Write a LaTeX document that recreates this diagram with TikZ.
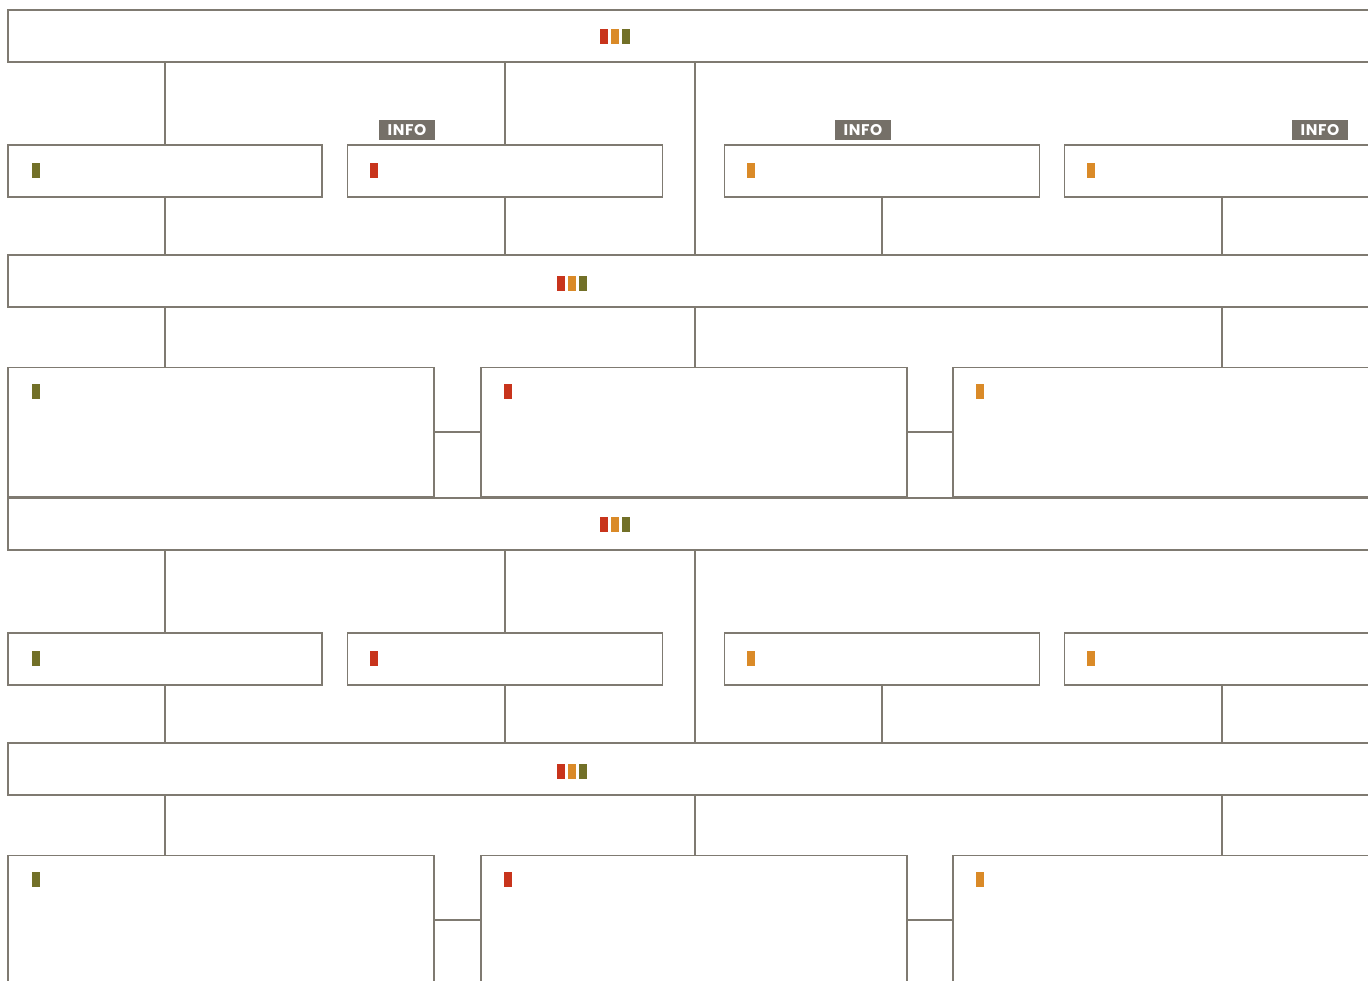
\documentclass[tikz,border=0pt]{standalone}
\usepackage{fontspec}
\newfontfamily\infofont{Poppins}[LetterSpace=4]
\definecolor{lgray}{HTML}{7F7A71}
\definecolor{infobg}{HTML}{757068}
\definecolor{cred}{HTML}{C8341C}
\definecolor{corange}{HTML}{DA8A28}
\definecolor{colive}{HTML}{727028}
\tikzset{
  linkline/.style={draw=lgray, line width=1.8pt},
  boxnode/.style={draw=lgray, line width=1.8pt, fill=white, inner sep=0pt, rectangle},
  barnode/.style={boxnode, minimum width=1392pt, minimum height=52pt},
  smallbox/.style={boxnode, minimum width=315pt, minimum height=52pt},
  bigbox/.style={boxnode, minimum width=426pt, minimum height=129pt},
  infotag/.style={fill=infobg, text=white, inner sep=0pt, minimum width=56pt, minimum height=20pt, font=\infofont\bfseries\fontsize{15.5pt}{16pt}\selectfont},
}
\begin{document}
\begin{tikzpicture}[x=1pt,y=-1pt]
\useasboundingbox (0,0) rectangle (1368,981);
\clip (0,0) rectangle (1368,981);
\fill[white] (0,0) rectangle (1368,981);
\foreach \s/\o in {A/0,B/488}{
  % bars
  \node[barnode] (barone\s) at (704,36+\o) {};
  \node[barnode] (bartwo\s) at (704,281+\o) {};
  % row of small boxes
  \node[smallbox, minimum width=314pt] (ra\s) at (165,171+\o) {};
  \node[smallbox] (rb\s) at (505,171+\o) {};
  \node[smallbox] (rc\s) at (882,171+\o) {};
  \node[smallbox] (rd\s) at (1222,171+\o) {};
  % row of big boxes
  \node[bigbox] (qa\s) at (221,432+\o) {};
  \node[bigbox] (qb\s) at (694,432+\o) {};
  \node[bigbox] (qc\s) at (1166,432+\o) {};
  \coordinate (mid\s) at (695,0);
  % connectors bar one -> small boxes
  \draw[linkline] (ra\s.north |- barone\s.south) -- (ra\s.north);
  \draw[linkline] (rb\s.north |- barone\s.south) -- (rb\s.north);
  \draw[linkline] (mid\s |- barone\s.south) -- (mid\s |- bartwo\s.north);
  % small boxes -> bar two
  \draw[linkline] (ra\s.south) -- (ra\s.south |- bartwo\s.north);
  \draw[linkline] (rb\s.south) -- (rb\s.south |- bartwo\s.north);
  \draw[linkline] (rc\s.south) -- (rc\s.south |- bartwo\s.north);
  \draw[linkline] (rd\s.south) -- (rd\s.south |- bartwo\s.north);
  % bar two -> big boxes
  \draw[linkline] (ra\s.south |- bartwo\s.south) -- (ra\s.south |- qa\s.north);
  \draw[linkline] (mid\s |- bartwo\s.south) -- (mid\s |- qb\s.north);
  \draw[linkline] (rd\s.south |- bartwo\s.south) -- (rd\s.south |- qc\s.north);
  % big boxes side links
  \draw[linkline] (qa\s.east) -- (qb\s.west);
  \draw[linkline] (qb\s.east) -- (qc\s.west);
  % markers in bars
  \fill[cred] (600,29+\o) rectangle (608,44+\o);
  \fill[corange] (611,29+\o) rectangle (619,44+\o);
  \fill[colive] (622,29+\o) rectangle (630,44+\o);
  \fill[cred] (557,276+\o) rectangle (565,291+\o);
  \fill[corange] (568,276+\o) rectangle (576,291+\o);
  \fill[colive] (579,276+\o) rectangle (587,291+\o);
  % markers in small boxes
  \fill[colive] (32,163+\o) rectangle (40,178+\o);
  \fill[cred] (370,163+\o) rectangle (378,178+\o);
  \fill[corange] (747,163+\o) rectangle (755,178+\o);
  \fill[corange] (1087,163+\o) rectangle (1095,178+\o);
  % markers in big boxes
  \fill[colive] (32,384+\o) rectangle (40,399+\o);
  \fill[cred] (504,384+\o) rectangle (512,399+\o);
  \fill[corange] (976,384+\o) rectangle (984,399+\o);
}
\node[infotag] (infoone) at (407,130) {INFO};
\node[infotag] (infotwo) at (863,130) {INFO};
\node[infotag] (infothree) at (1320,130) {INFO};
\end{tikzpicture}
\end{document}
